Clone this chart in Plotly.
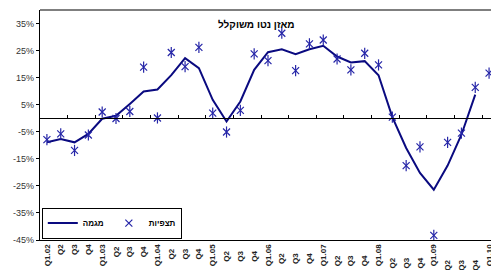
import plotly.graph_objects as go

quarters = ["Q1.02", "Q2", "Q3", "Q4", "Q1.03", "Q2 ", "Q3 ", "Q4 ", "Q1.04", "Q2  ", "Q3  ", "Q4  ",
            "Q1.05", "Q2   ", "Q3   ", "Q4   ", "Q1.06", "Q2    ", "Q3    ", "Q4    ", "Q1.07",
            "Q2     ", "Q3     ", "Q4     ", "Q1.08", "Q2      ", "Q3      ", "Q4      ", "Q1.09",
            "Q2       ", "Q3       ", "Q4       ", "Q1.10"]

trend = [-8.9, -7.7, -8.9, -5.8, -0.2, 0.9, 5.3, 9.9, 10.6, 15.9, 22.2, 18.5,
         6.8, -1.2, 6.2, 17.9, 24.4, 25.5, 23.7, 25.5, 26.8, 22.8, 20.6, 21.1,
         15.9, 0.4, -11.0, -20.2, -26.4, -17.5, -6.1, 8.7, None]

observations = [-7.9, -5.8, -11.9, -6.2, 2.3, -0.1, 2.5, 18.9, 0.1, 24.3, 19.1, 26.2,
                1.9, -5.1, 2.9, 23.8, 21.3, 31.4, 17.6, 27.5, 28.9, 21.9, 17.9, 24.0,
                19.7, 0.4, -17.5, -10.6, -43.3, -8.9, -5.5, 11.4, 16.7]

y_ticks = [-45, -35, -25, -15, -5, 5, 15, 25, 35]
y_tick_labels = [f"{v}%" for v in y_ticks]

title_text = "מאזן נטו משוקלל"
trend_name = "מגמה"
obs_name = "תצפיות"

NAVY = "#0a0a80"
MARK = "#2626a8"
FONT = "Liberation Sans, Arial, sans-serif"

fig = go.Figure()

fig.add_trace(go.Scatter(x=quarters, y=trend, mode="lines", name=trend_name,
                         line=dict(color=NAVY, width=2), connectgaps=False))
fig.add_trace(go.Scatter(x=quarters, y=observations, mode="markers", name=obs_name,
                         marker=dict(symbol="x-thin-open", size=7, color=MARK,
                                     line=dict(color=MARK, width=1.2))))
fig.add_trace(go.Scatter(x=quarters, y=observations, mode="markers", showlegend=False,
                         marker=dict(symbol="line-ns-open", size=8, color=MARK,
                                     line=dict(color=MARK, width=1.2))))
# invisible trace for the zero-crossing category axis
fig.add_trace(go.Scatter(x=quarters, y=[0] * len(quarters), mode="lines", xaxis="x2",
                         line=dict(width=0), showlegend=False, hoverinfo="skip"))

xr = [-0.5, 32.14]
fig.update_layout(
    width=491, height=270,
    margin=dict(l=40, r=0, t=10, b=29.5),
    paper_bgcolor="white", plot_bgcolor="white",
    font=dict(family=FONT, size=9, color="#333"),
    hovermode=False,
    showlegend=True,
    legend=dict(orientation="h", x=0.004, y=0.006, xanchor="left", yanchor="bottom",
                bgcolor="white", bordercolor="black", borderwidth=1,
                font=dict(family=FONT, size=8, color="black", weight="bold"),
                itemwidth=30, tracegroupgap=0),
    xaxis=dict(type="category", categoryorder="array", categoryarray=quarters,
               range=xr, showline=True, linecolor="black", linewidth=1.2,
               mirror=False, ticks="", showgrid=False, zeroline=False, automargin=False,
               tickangle=-90, tickfont=dict(family=FONT, size=8, color="#222", weight="bold")),
    xaxis2=dict(type="category", categoryorder="array", categoryarray=quarters,
                range=xr, overlaying="x", anchor="free", position=45 / 85,
                side="bottom", showline=True, linecolor="black", linewidth=1.2,
                ticks="inside", ticklen=3, tickcolor="black", tickson="boundaries",
                showticklabels=False, showgrid=False, zeroline=False),
    yaxis=dict(range=[-45, 40], tickvals=y_ticks, ticktext=y_tick_labels,
               showline=True, linecolor="black", linewidth=1.2,
               ticks="outside", ticklen=3, tickcolor="black", automargin=False,
               showgrid=False, zeroline=False,
               tickfont=dict(family=FONT, size=9, color="#333")),
    shapes=[dict(type="line", xref="paper", yref="paper", x0=0, x1=1, y0=1, y1=1,
                 line=dict(color="black", width=1.2))],
    annotations=[dict(text=title_text, x=0.48, y=0.939, xref="paper", yref="paper",
                      showarrow=False, font=dict(family=FONT, size=10, color="black", weight="bold"),
                      xanchor="center", yanchor="middle")],
)

fig.write_html(
    "out.html",
    config={"displayModeBar": False, "staticPlot": True},
    post_script="document.body.style.margin='0';document.body.style.overflow='hidden';"
                "document.documentElement.style.overflow='hidden';",
)
